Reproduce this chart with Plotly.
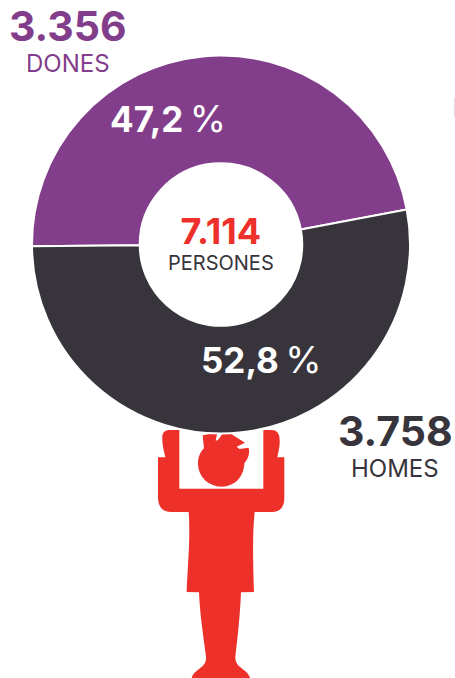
import plotly.graph_objects as go

W, H = 455, 678
categories = ["Dones", "Homes"]
values = [3356, 3758]
colors = ["#823e8b", "#37343b"]
RED = "#ee302b"
FONT = "Inter, Lato, sans-serif"

def px(x):
    return x / W
def py(y):
    return 1 - y / H

# Pictogram outlines, in the 3x crop coordinates of the figure area
BODY = [("M",148,30),("L",118,30),("C",98,30,96,45,97,60),("C",98,85,104,100,106,112),("L",84,112),("L",84,235),
        ("C",85,262,98,276,125,276),("L",176,276),("C",182,350,172,450,170,516),("L",207,517),("C",210,590,222,660,228,710),
        ("C",231,745,192,745,185,774),("L",360,774),("C",352,745,314,745,316,710),("C",322,660,330,590,333,517),
        ("L",372,516),("C",370,450,366,350,374,276),("L",425,276),("C",450,276,463,262,463,235),("L",463,112),("L",442,112),
        ("C",445,95,450,80,449,60),("C",449,40,440,30,425,30),("L",400,30),("L",400,206),("L",148,206),("Z",)]
HEAD = [("M",218,46),("L",262,38),("L",257,62),("L",264,60),("L",280,38),("L",300,40),("L",345,68),("L",320,80),("L",328,87),
        ("L",356,83),("C",360,100,355,115,343,130),("C",342,170,315,200,275,200),("C",235,200,204,170,204,130),("C",204,110,212,95,222,85),("Z",)]

def to_path(cmds):
    out = []
    for c in cmds:
        pts = c[1:]
        conv = []
        for i in range(0, len(pts), 2):
            conv.append(f"{px(130 + pts[i] / 3):.5f},{py(420 + pts[i + 1] / 3):.5f}")
        out.append(c[0] + " ".join(conv))
    return " ".join(out)

fig = go.Figure(go.Pie(
    labels=categories, values=values, hole=0.43, sort=False, direction="clockwise", rotation=269.5,
    marker=dict(colors=colors, line=dict(color="white", width=2)),
    textinfo="none", hoverinfo="label+value", showlegend=False,
    domain=dict(x=[px(32), px(410)], y=[py(433.5), py(55.5)]),
))

def note(x, y, text, size, color, anchor="center"):
    return dict(x=px(x), y=py(y), xref="paper", yref="paper", text=text, showarrow=False, xanchor=anchor, yanchor="middle",
                font=dict(family=FONT, size=size, color=color))

PCT = "\u2009<span style='font-size:37px'>%</span>"
CENTER = f"<span style='font-size:36px;color:{RED}'><b>7.114</b></span><br>PERSONES"
fig.update_layout(
    width=W, height=H, margin=dict(l=0, r=0, t=0, b=0), paper_bgcolor="white", autosize=False,
    shapes=[
        dict(type="path", path=to_path(BODY), xref="paper", yref="paper", fillcolor=RED, line=dict(width=0), layer="below"),
        dict(type="path", path=to_path(HEAD), xref="paper", yref="paper", fillcolor=RED, line=dict(width=0), layer="below"),
        dict(type="line", x0=px(454.5), x1=px(454.5), y0=py(98), y1=py(117), xref="paper", yref="paper", line=dict(color="#dddddd", width=1)),
    ],
    annotations=[
        note(68, 26, "<b>3.356</b>", 41, colors[0]),
        note(68, 63, "DONES", 24, colors[0]),
        note(168, 119, "<b>47,2</b>" + PCT, 35, "white"),
        note(221, 242, CENTER, 20, colors[1]),
        note(261, 359, "<b>52,8</b>" + PCT, 35, "white"),
        note(395, 431, "<b>3.758</b>", 41, colors[1]),
        note(395, 468, "HOMES", 24, colors[1]),
    ],
)
fig.write_html("out.html", post_script="document.body.style.margin='0';", config={"displayModeBar": False})
